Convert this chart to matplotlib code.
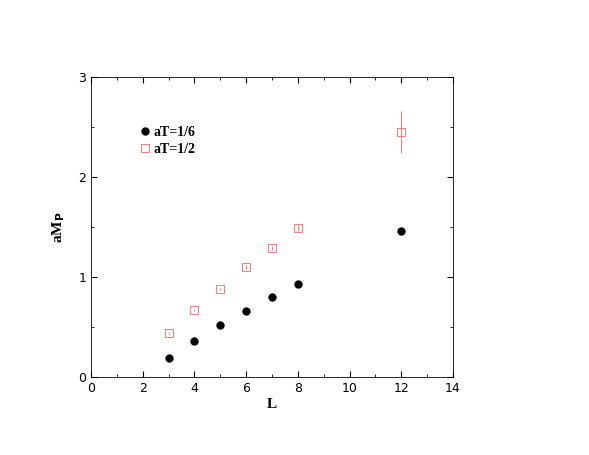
import matplotlib
matplotlib.use("Agg")
import matplotlib.pyplot as plt
from matplotlib.ticker import MultipleLocator
from matplotlib.lines import Line2D

L = [3, 4, 5, 6, 7, 8, 12]
m_16 = [0.19, 0.36, 0.52, 0.66, 0.80, 0.93, 1.46]
e_16 = [0.005, 0.005, 0.005, 0.005, 0.01, 0.01, 0.03]
m_12 = [0.44, 0.67, 0.88, 1.10, 1.29, 1.49, 2.45]
e_12 = [0.01, 0.01, 0.01, 0.02, 0.02, 0.03, 0.21]

fig = plt.figure(figsize=(5.89, 4.55), dpi=100)
ax = fig.add_axes([0.1545, 0.1714, 0.6146, 0.659])
ax.errorbar(L, m_16, yerr=e_16, fmt='o', color='black', ms=5, elinewidth=0.8, capsize=0)
ax.errorbar(L, m_12, yerr=e_12, fmt='s', mfc='none', mec='#f08080', ecolor='#f08080', ms=5.5, mew=0.8,
            elinewidth=0.8, capsize=0)
ax.set_xlim(0, 14)
ax.set_ylim(0, 3)
ax.xaxis.set_major_locator(MultipleLocator(2))
ax.xaxis.set_minor_locator(MultipleLocator(1))
ax.yaxis.set_major_locator(MultipleLocator(1))
ax.yaxis.set_minor_locator(MultipleLocator(0.5))
ax.tick_params(which='both', direction='in', top=True, right=True, labelsize=9)
ax.tick_params(which='major', length=4)
ax.tick_params(which='minor', length=2)
for s in ax.spines.values():
    s.set_linewidth(0.6)
ax.set_xlabel('L', fontfamily='Liberation Serif', fontweight='bold', fontsize=11, labelpad=2)
ax.set_ylabel(r'aM$_\mathbf{P}$', fontfamily='Liberation Serif', fontweight='bold', fontsize=11, labelpad=8)
handles = [Line2D([], [], ls='none', marker='o', color='black', ms=5),
           Line2D([], [], ls='none', marker='s', mfc='none', mec='#f08080', ms=5.5, mew=0.8)]
ax.legend(handles, ['aT=1/6', 'aT=1/2'], loc='upper left', bbox_to_anchor=(0.115, 0.855), frameon=False,
          handletextpad=0.1, handlelength=1.0, borderaxespad=0, labelspacing=0.25,
          prop={'family': 'Liberation Serif', 'weight': 'bold', 'size': 10})
fig.savefig('out.png', dpi=100)
